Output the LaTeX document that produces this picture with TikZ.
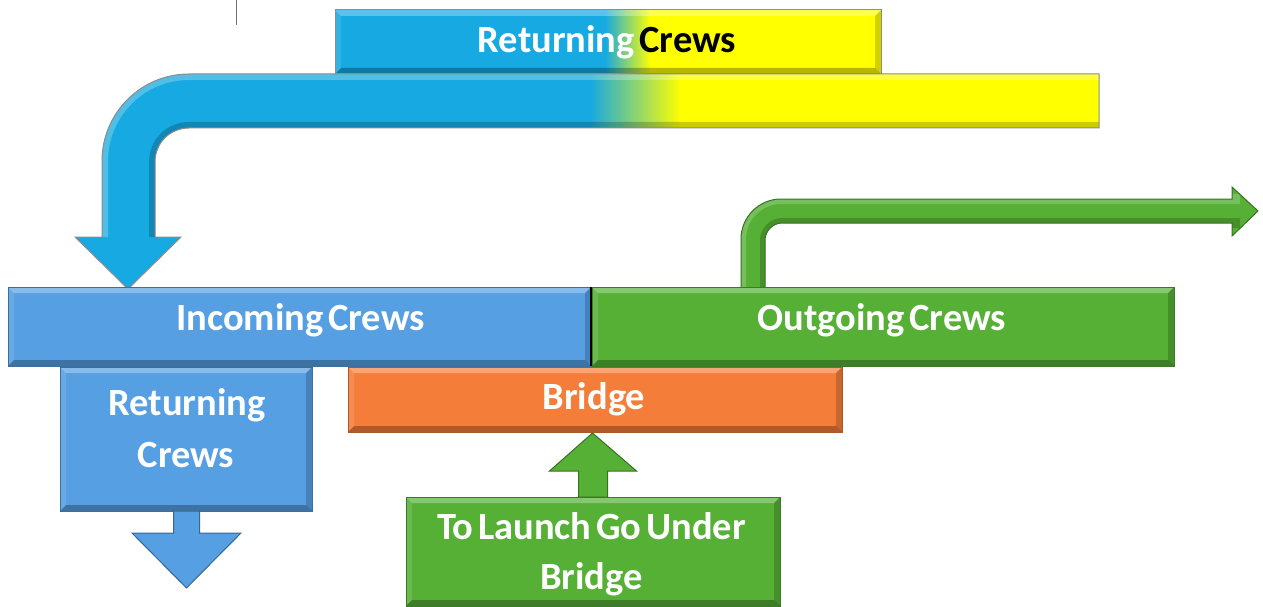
\documentclass[tikz,border=0pt]{standalone}
\usepackage{fontspec}
\setmainfont[WordSpace=0.55]{Carlito}
\usetikzlibrary{calc}
\definecolor{cyanb}{HTML}{17A9E1}
\definecolor{yel}{HTML}{FFFF00}
\definecolor{lblue}{HTML}{559FE2}
\definecolor{grn}{HTML}{55B035}
\definecolor{org}{HTML}{F57D3A}
\tikzset{
  bev/.style={path picture={
    \coordinate (pa) at (path picture bounding box.north west);
    \coordinate (pb) at (path picture bounding box.north east);
    \coordinate (pc) at (path picture bounding box.south east);
    \coordinate (pd) at (path picture bounding box.south west);
    \fill[white,opacity=.30] (pa) -- (pb) -- ([xshift=-6pt,yshift=-6pt]pb) -- ([xshift=6pt,yshift=-6pt]pa) -- cycle;
    \fill[white,opacity=.12] (pa) -- ([xshift=6pt,yshift=-6pt]pa) -- ([xshift=6pt,yshift=6pt]pd) -- (pd) -- cycle;
    \fill[black,opacity=.28] (pd) -- ([xshift=6pt,yshift=6pt]pd) -- ([xshift=-6pt,yshift=6pt]pc) -- (pc) -- cycle;
    \fill[black,opacity=.18] (pb) -- (pc) -- ([xshift=-6pt,yshift=6pt]pc) -- ([xshift=-6pt,yshift=-6pt]pb) -- cycle;
  }},
  box/.style={draw=#1!70!black, fill=#1, line width=1pt, bev, inner sep=0pt, outer sep=0pt, anchor=north west},
  plainbox/.style={draw=black!45, line width=1pt, bev, inner sep=0pt, outer sep=0pt, anchor=north west},
  lbl/.style={text=white, font=\fontsize{38.5}{46}\selectfont\bfseries, anchor=base, inner sep=0pt},
  arrowline/.style={draw=#1!65!black, line width=1pt},
}
\begin{document}
\begin{tikzpicture}[x=1pt,y=-1pt]
\useasboundingbox (0,0) rectangle (1263,607);

% thin line at top
\draw[black!55, line width=1pt] (236,0) -- (236,25);

% big returning arrow with gradient
\def\bigarrowpath{(1099,128) -- (1099,74) -- (189,74) .. controls (141,74) and (102,113) .. (102,161) -- (102,237) -- (75,237) -- (128,289) -- (181,237) -- (155,237) -- (155,162) .. controls (155,143) and (170,128) .. (189,128) -- cycle}
\begin{scope}
  \clip \bigarrowpath;
  \fill[cyanb] (60,60) rectangle (591,300);
  \shade[left color=cyanb, right color=yel] (590,60) rectangle (681,140);
  \fill[yel] (680,60) rectangle (1110,140);
  \draw[white,opacity=.25,line width=12pt] (1110,74) -- (189,74) .. controls (141,74) and (102,113) .. (102,161) -- (102,237);
  \draw[black,opacity=.2,line width=12pt] (1110,128) -- (189,128) .. controls (170,128) and (155,143) .. (155,162) -- (155,237);
\end{scope}
\draw[black!45, line width=1pt] \bigarrowpath;

% top box with gradient
\fill[cyanb] (335,10) rectangle (606,74);
\shade[left color=cyanb, right color=yel] (605,10) rectangle (651,74);
\fill[yel] (650,10) rectangle (881,74);
\node[plainbox, minimum width=546pt, minimum height=64pt] (top) at (335,10) {};
\node[lbl] (topt) at (607,53) {Returning \textcolor{black}{Crews}};

% green outgoing arrow
\def\outarrowpath{(741,290) -- (741,239) .. controls (741,217) and (759,199) .. (781,199) -- (1232,199) -- (1232,187) -- (1258,211) -- (1232,236) -- (1232,223) -- (782,223) .. controls (773,223) and (765,231) .. (765,240) -- (765,290) -- cycle}
\begin{scope}
  \clip \outarrowpath;
  \fill[grn] \outarrowpath;
  \draw[white,opacity=.2,line width=10pt] (741,290) -- (741,239) .. controls (741,217) and (759,199) .. (781,199) -- (1240,199);
  \draw[black,opacity=.18,line width=10pt] (765,290) -- (765,240) .. controls (765,231) and (773,223) .. (782,223) -- (1240,223);
\end{scope}
\draw[arrowline=grn] \outarrowpath;

% boxes
\node[box=lblue, minimum width=583pt, minimum height=79pt] (inc) at (8,287) {};
\node[box=grn, minimum width=582pt, minimum height=79pt] (out) at (592,287) {};
\draw[black, line width=2pt] (inc.north east) -- (inc.south east);
\node[box=lblue, minimum width=252pt, minimum height=144pt] (ret) at (60,367) {};
\node[box=org, minimum width=494pt, minimum height=65pt] (bri) at (348,367) {};
\node[box=grn, minimum width=374pt, minimum height=109pt] (lau) at (406,497) {};

% down arrow under returning crews
\coordinate (dtip) at (186.5,588);
\def\downpath{($(ret.south)+(-12.5,0)$) -- ($(ret.south)+(-12.5,22)$) -- ($(ret.south)+(-54,22)$) -- (dtip) -- ($(ret.south)+(55,22)$) -- ($(ret.south)+(13.5,22)$) -- ($(ret.south)+(13.5,0)$) -- cycle}
\fill[lblue] \downpath;
\draw[arrowline=lblue] \downpath;

% up arrow from launch box to bridge
\coordinate (utip) at (592.5,433);
\def\uppath{($(lau.north)+(-14.5,0)$) -- ($(lau.north)+(-14.5,-26)$) -- ($(lau.north)+(-43.5,-26)$) -- (utip) -- ($(lau.north)+(43.5,-26)$) -- ($(lau.north)+(14.5,-26)$) -- ($(lau.north)+(14.5,0)$) -- cycle}
\fill[grn] \uppath;
\draw[arrowline=grn] \uppath;

% labels
\node[lbl] (inct) at (300.5,330) {Incoming Crews};
\node[lbl] (outt) at (882,330) {Outgoing Crews};
\node[lbl] (rett1) at (187,415) {Returning};
\node[lbl] (rett2) at (186,467) {Crews};
\node[lbl] (brit) at (594,409) {Bridge};
\node[lbl] (laut1) at (591.5,539) {To Launch Go Under};
\node[lbl] (laut2) at (591.5,589) {Bridge};
\end{tikzpicture}
\end{document}
